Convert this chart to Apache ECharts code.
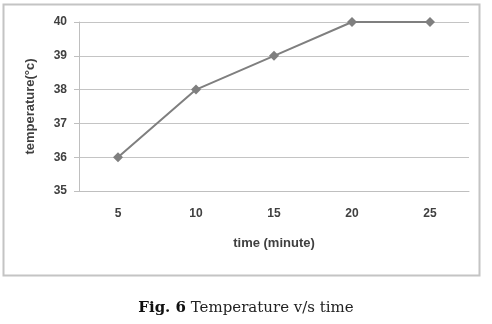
<!DOCTYPE html>
<html>
<head>
<meta charset="utf-8">
<script src="https://cdn.jsdelivr.net/npm/echarts@6/dist/echarts.min.js"></script>
<style>
  html, body { margin: 0; padding: 0; background: #fff; }
  #chart { width: 492px; height: 324px; }
</style>
</head>
<body>
<div id="chart"></div>
<script>
// Temperature readings taken every five minutes
const timeMinutes = ['5', '10', '15', '20', '25'];
const temperature = [36, 38, 39, 40, 40];
const yTicks = { min: 35, max: 40, interval: 1 };

const chart = echarts.init(document.getElementById('chart'), null, { renderer: 'canvas' });

const labelFont = {
  color: '#404040',
  fontFamily: 'Liberation Sans, Arial, sans-serif',
  fontSize: 12,
  fontWeight: 'bold'
};

chart.setOption({
  animation: false,
  backgroundColor: '#fff',
  title: {
    text: '{b|Fig. 6} Temperature v/s time',
    left: 'center',
    top: 296,
    textStyle: {
      fontFamily: 'DejaVu Serif, Liberation Serif, serif',
      fontSize: 15,
      fontWeight: 'normal',
      color: '#222',
      rich: {
        b: { fontFamily: 'DejaVu Serif, Liberation Serif, serif', fontSize: 15, fontWeight: 'bold', color: '#111' }
      }
    }
  },
  graphic: [{
    type: 'rect',
    shape: { x: 3.5, y: 4.5, width: 476, height: 271 },
    style: { fill: 'none', stroke: '#c4c4c4', lineWidth: 2 },
    silent: true
  }],
  grid: { left: 79, right: 23, top: 22, bottom: 133, containLabel: false },
  xAxis: {
    type: 'category',
    data: timeMinutes,
    boundaryGap: true,
    name: 'time (minute)',
    nameLocation: 'middle',
    nameGap: 46,
    nameTextStyle: Object.assign({}, labelFont, { fontSize: 13 }),
    axisLine: { show: true, lineStyle: { color: '#bfbfbf', width: 1 } },
    axisTick: { show: false },
    axisLabel: Object.assign({}, labelFont, { margin: 17 }),
    splitLine: { show: false }
  },
  yAxis: {
    type: 'value',
    min: yTicks.min,
    max: yTicks.max,
    interval: yTicks.interval,
    name: 'temperature(°c)',
    nameLocation: 'middle',
    nameGap: 42,
    nameRotate: 90,
    nameTextStyle: Object.assign({}, labelFont, { fontSize: 13 }),
    axisLine: { show: true, lineStyle: { color: '#bfbfbf', width: 1 } },
    axisTick: { show: true, length: 5, lineStyle: { color: '#bfbfbf' } },
    axisLabel: Object.assign({}, labelFont, { margin: 12 }),
    splitLine: { show: true, lineStyle: { color: '#c4c4c4', width: 1 } }
  },
  series: [{
    type: 'line',
    data: temperature,
    symbol: 'diamond',
    symbolSize: 10,
    lineStyle: { color: '#7f7f7f', width: 2 },
    itemStyle: { color: '#7f7f7f' }
  }]
});
</script>
</body>
</html>
